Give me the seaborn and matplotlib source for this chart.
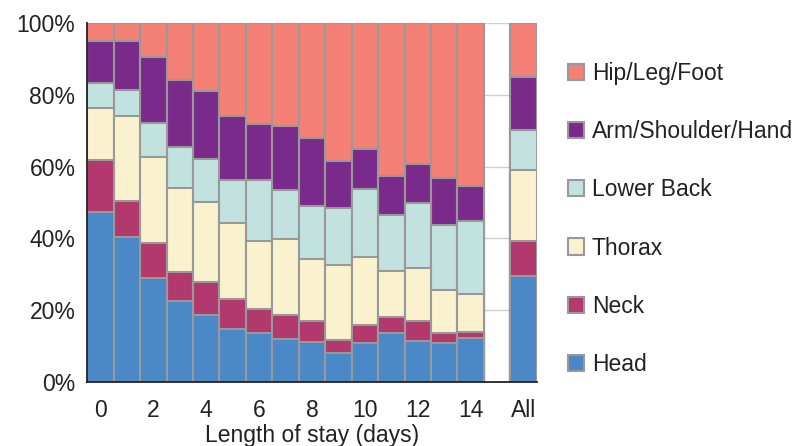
import pandas as pd
import seaborn as sns
import matplotlib.pyplot as plt
from matplotlib.patches import Patch

# --- Data (percent of injuries per body region) ---
stay = ["0", "1", "2", "3", "4", "5", "6", "7", "8", "9", "10", "11", "12", "13", "14", "All"]
head = [47.3, 40.3, 28.9, 22.7, 18.7, 14.8, 13.6, 11.9, 11.2, 8.0, 10.8, 13.6, 11.3, 10.8, 12.4, 29.5]
neck = [14.7, 10.2, 9.7, 7.9, 9.2, 8.4, 6.8, 6.9, 5.9, 3.7, 5.2, 4.6, 5.6, 2.8, 1.5, 9.9]
thorax = [14.3, 23.6, 24.2, 23.4, 22.2, 21.2, 19.0, 21.1, 17.1, 20.8, 18.7, 12.6, 15.0, 12.0, 10.6, 19.8]
lower_back = [6.9, 7.4, 9.4, 11.5, 12.1, 12.0, 17.0, 13.6, 14.8, 16.0, 19.0, 15.8, 17.9, 18.2, 20.4, 11.0]
arm = [11.9, 13.6, 18.4, 18.8, 18.8, 17.7, 15.5, 17.8, 19.0, 13.1, 11.3, 10.9, 10.9, 13.0, 9.7, 14.8]
hip = [4.9, 4.9, 9.4, 15.7, 19.0, 25.9, 28.1, 28.7, 32.0, 38.4, 35.0, 42.5, 39.3, 43.2, 45.4, 15.0]

regions = ["Head", "Neck", "Thorax", "Lower Back", "Arm/Shoulder/Hand", "Hip/Leg/Foot"]
colors = ["#4a88c7", "#b2386d", "#faf1cf", "#c2e2df", "#7a2a8a", "#f48076"]

df = pd.DataFrame({"stay": stay, "Head": head, "Neck": neck, "Thorax": thorax,
                   "Lower Back": lower_back, "Arm/Shoulder/Hand": arm, "Hip/Leg/Foot": hip})
df[regions] = df[regions].div(df[regions].sum(axis=1), axis=0) * 100
cum = df[regions].cumsum(axis=1)
cum["stay"] = df["stay"]

order = stay[:15] + [" "] + ["All"]

# --- Plot ---
sns.set_style("white")
plt.rcParams["font.family"] = ["Liberation Sans", "DejaVu Sans"]
fs = 16.5

fig = plt.figure(figsize=(8.12, 4.46), dpi=100)
ax = fig.add_axes([0.1075, 0.1435, 0.5535, 0.8045])
ax.set_axisbelow(True)
ax.yaxis.grid(True, color="#d0d0d0", linewidth=1)

# draw cumulative layers from the top down so lower ones cover upper ones
for region, col in zip(regions[::-1], colors[::-1]):
    sns.barplot(data=cum, x="stay", y=region, order=order, color=col, saturation=1,
                width=1.0, edgecolor="#999999", linewidth=1.5, errorbar=None, ax=ax)

ax.set_xlim(-0.5, 16.5)
ax.set_ylim(0, 100)
ax.set_yticks([0, 20, 40, 60, 80, 100])
ax.set_yticklabels([f"{v}%" for v in [0, 20, 40, 60, 80, 100]])
ax.set_xticks([0, 2, 4, 6, 8, 10, 12, 14, 16])
ax.set_xticklabels(["0", "2", "4", "6", "8", "10", "12", "14", "All"])
ax.set_xticks([i - 0.5 for i in range(18)], minor=True)
ax.tick_params(axis="x", which="major", length=0, labelsize=fs, colors="#222222", pad=12)
ax.tick_params(axis="x", which="minor", length=7, width=1.2, color="#333333")
ax.tick_params(axis="y", length=7, width=1.2, labelsize=fs, colors="#222222", pad=1.5)
ax.set_xlabel("Length of stay (days)", fontsize=fs, color="#222222", labelpad=2)
ax.set_ylabel("")

for s in ["top", "right"]:
    ax.spines[s].set_visible(False)
for s in ["left", "bottom"]:
    ax.spines[s].set_color("#222222")
    ax.spines[s].set_linewidth(1.3)

handles = [Patch(facecolor=c, edgecolor="#999999", linewidth=1.5) for c in colors[::-1]]
fig.legend(handles, regions[::-1], loc="upper left", bbox_to_anchor=(0.674, 0.908),
           frameon=False, fontsize=fs, handlelength=0.7, handleheight=0.7,
           handletextpad=0.35, labelspacing=1.54, labelcolor="#222222")

plt.savefig("out.png", dpi=100)
